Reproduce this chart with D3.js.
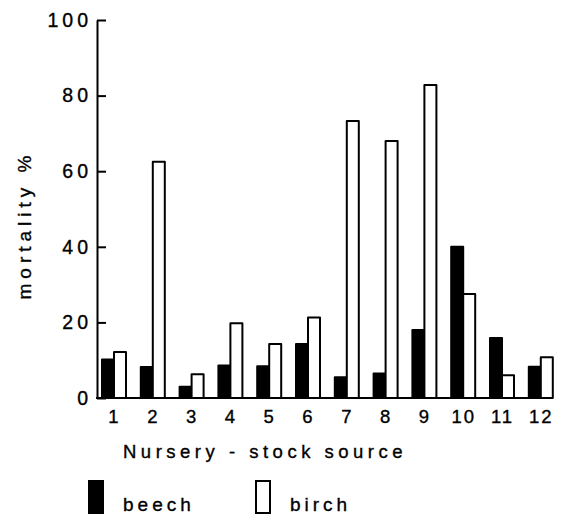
<!DOCTYPE html>
<html>
<head>
<meta charset="utf-8">
<script src="https://cdn.jsdelivr.net/npm/d3@7"></script>
<style>
  html, body { margin: 0; padding: 0; background: #fff; }
  svg text { font-family: "Liberation Sans", Arial, Helvetica, sans-serif; fill: #000; stroke: #000; stroke-width: 0.35px; }
</style>
</head>
<body>
<svg id="chart" width="561" height="514"></svg>
<script>
// Mortality (%) of beech and birch transplants by nursery stock source
const sources = ["1", "2", "3", "4", "5", "6", "7", "8", "9", "10", "11", "12"];
const beech = [10.2, 8.2, 3.0, 8.6, 8.4, 14.3, 5.5, 6.5, 18.0, 40.0, 15.9, 8.3];
const birch = [12.2, 62.5, 6.3, 19.8, 14.3, 21.3, 73.3, 68.0, 82.8, 27.5, 6.0, 10.8];
const species = ["beech", "birch"];
const yTicks = [0, 20, 40, 60, 80, 100];

const svg = d3.select("#chart");

const y = d3.scaleLinear().domain([0, 100]).range([398, 20]);
const x = d3.scalePoint().domain(sources).range([114, 540.8]);
const sub = d3.scaleBand().domain(species).range([-12, 12]);

const rows = sources.map((s, i) => ({ source: s, beech: beech[i], birch: birch[i] }));

// bars
const groups = svg.append("g").selectAll("g")
  .data(rows).join("g")
  .attr("transform", d => `translate(${x(d.source)},0)`);

groups.selectAll("rect")
  .data(d => species.map(k => ({ key: k, value: d[k] })))
  .join("rect")
  .attr("x", d => sub(d.key))
  .attr("width", sub.bandwidth())
  .attr("y", d => y(d.value))
  .attr("height", d => y(0) - y(d.value))
  .attr("fill", d => d.key === "beech" ? "#000" : "#fff")
  .attr("stroke", "#000")
  .attr("stroke-width", 2)
  .attr("stroke-linejoin", "round");

// y axis: ticks point inward, labels on the left
const yAxis = svg.append("g")
  .attr("transform", "translate(97,0)")
  .call(d3.axisLeft(y).tickValues(yTicks).tickSizeInner(-9).tickSizeOuter(0).tickPadding(5));
yAxis.select(".domain").attr("stroke-width", 2);
yAxis.selectAll(".tick line").attr("stroke-width", 2);
yAxis.selectAll(".tick text")
  .attr("font-size", 19.5)
  .attr("letter-spacing", 4)
  .attr("font-family", "Liberation Sans, Arial, sans-serif");

// baseline
svg.append("line")
  .attr("x1", 96).attr("x2", 553)
  .attr("y1", y(0)).attr("y2", y(0))
  .attr("stroke", "#000").attr("stroke-width", 2);

// x axis labels
const xAxis = svg.append("g")
  .attr("transform", `translate(0,${y(0) + 8})`)
  .call(d3.axisBottom(x).tickSize(0).tickPadding(4));
xAxis.select(".domain").remove();
xAxis.selectAll(".tick text")
  .attr("font-size", 18.5)
  .attr("letter-spacing", 2)
  .attr("font-family", "Liberation Sans, Arial, sans-serif");

// axis titles
svg.append("text")
  .attr("x", 123).attr("y", 458)
  .attr("font-size", 18.5)
  .attr("letter-spacing", 4.5)
  .text("Nursery - stock source");

svg.append("text")
  .attr("transform", "translate(31,225) rotate(-90)")
  .attr("text-anchor", "middle")
  .attr("font-size", 19)
  .attr("letter-spacing", 5)
  .text("mortality %");

// legend
const legend = [
  { key: "beech", sx: 89, tx: 123 },
  { key: "birch", sx: 256, tx: 290 }
];
const lg = svg.append("g").selectAll("g").data(legend).join("g");
lg.append("rect")
  .attr("x", d => d.sx).attr("y", 481)
  .attr("width", 14).attr("height", 32)
  .attr("fill", d => d.key === "beech" ? "#000" : "#fff")
  .attr("stroke", "#000").attr("stroke-width", 2);
lg.append("text")
  .attr("x", d => d.tx).attr("y", 511)
  .attr("font-size", 19)
  .attr("letter-spacing", 4)
  .text(d => d.key);
</script>
</body>
</html>
